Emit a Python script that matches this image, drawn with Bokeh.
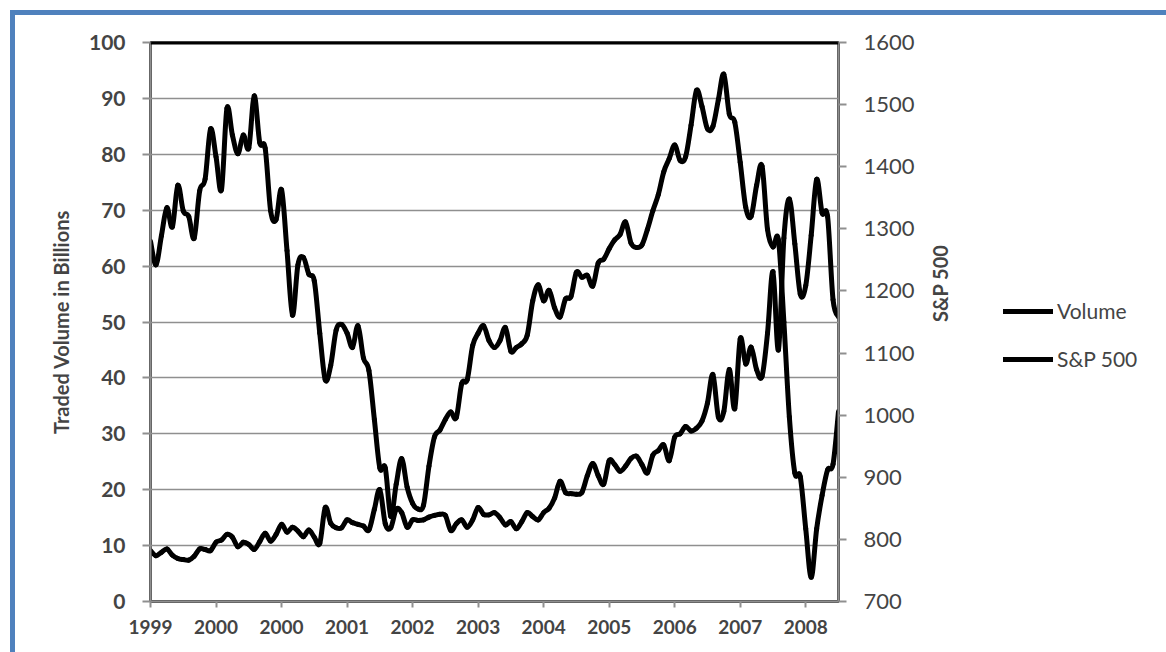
from bokeh.plotting import figure
from bokeh.layouts import row
from bokeh.models import (Range1d, LinearAxis, FixedTicker, Legend, LegendItem, Span)
from bokeh.embed import file_html
from bokeh.resources import INLINE
import math

# ---- data (monthly) ----
year_labels = ["1999", "2000", "2000", "2001", "2002", "2003",
               "2004", "2005", "2006", "2007", "2008"]
months_per_label = 12
series_names = ["Volume", "S&P 500"]

volume = [9.1, 8.2, 8.8, 9.4, 8.3, 7.7, 7.5, 7.4, 8.1, 9.4,
          9.3, 9.1, 10.6, 11.0, 12.0, 11.5, 9.8, 10.6, 10.2, 9.3,
          10.7, 12.2, 10.8, 12.0, 13.8, 12.4, 13.3, 12.6, 11.6, 12.8,
          11.5, 10.4, 16.8, 14.0, 13.2, 13.2, 14.6, 14.1, 13.8, 13.5,
          12.8, 16.5, 20.0, 13.9, 13.2, 16.5, 15.9, 13.3, 14.6, 14.5,
          14.6, 15.1, 15.4, 15.6, 15.4, 12.7, 13.9, 14.6, 13.3, 14.6,
          16.8, 15.6, 15.5, 15.9, 15.0, 13.7, 14.3, 13.0, 14.3, 15.9,
          15.2, 14.6, 15.9, 16.7, 18.5, 21.5, 19.5, 19.3, 19.2, 19.5,
          22.5, 24.7, 22.5, 21.0, 25.2, 24.5, 23.3, 24.2, 25.6, 26.0,
          24.5, 23.0, 26.2, 27.0, 28.0, 25.2, 29.4, 30.0, 31.3, 30.5,
          31.0, 32.3, 35.5, 40.6, 33.0, 34.0, 41.5, 34.5, 47.0, 42.5,
          45.5, 41.5, 40.3, 48.0, 59.0, 45.0, 65.0, 72.0, 64.0, 55.0,
          56.5, 65.5, 75.5, 69.5, 68.9, 54.0, 50.9]

sp500 = [1280, 1242, 1289, 1334, 1303, 1370, 1329, 1320, 1285, 1361,
         1380, 1461, 1416, 1363, 1494, 1451, 1421, 1451, 1430, 1514,
         1439, 1430, 1329, 1315, 1363, 1265, 1161, 1242, 1254, 1227,
         1216, 1132, 1057, 1080, 1137, 1146, 1132, 1109, 1144, 1092,
         1072, 993, 915, 915, 837, 889, 930, 884, 858, 849,
         855, 918, 965, 976, 993, 1005, 996, 1051, 1057, 1112,
         1132, 1144, 1120, 1109, 1120, 1141, 1103, 1109, 1115, 1129,
         1184, 1210, 1184, 1201, 1173, 1158, 1187, 1191, 1230, 1222,
         1225, 1208, 1245, 1251, 1268, 1282, 1291, 1311, 1277, 1270,
         1274, 1299, 1329, 1355, 1392, 1413, 1435, 1410, 1416, 1467,
         1523, 1497, 1461, 1465, 1508, 1549, 1485, 1472, 1407, 1335,
         1320, 1370, 1401, 1299, 1271, 1282, 1150, 997, 907, 901,
         817, 739, 817, 871, 912, 921, 1006]

month_index = list(range(len(volume)))

FONT = "Lato"
GRID = "#8f8f8f"
OFF = 15          # blue frame (margin 10 + border 5) before the canvas
MAIN_RIGHT = 140  # room for the right axis
MAIN_W = (150 - OFF) + 688 + MAIN_RIGHT
H = 652 - OFF


def smooth_segments(xs, ys):
    """Excel-style smoothed line: one cubic Bezier per pair of neighbouring points."""
    n = len(xs)
    seg = dict(x0=[], y0=[], x1=[], y1=[], cx0=[], cy0=[], cx1=[], cy1=[])
    for i in range(n - 1):
        a = max(i - 1, 0)
        b = min(i + 2, n - 1)
        seg["x0"].append(xs[i]); seg["y0"].append(ys[i])
        seg["x1"].append(xs[i + 1]); seg["y1"].append(ys[i + 1])
        seg["cx0"].append(xs[i] + (xs[i + 1] - xs[a]) / 6)
        seg["cy0"].append(ys[i] + (ys[i + 1] - ys[a]) / 6)
        seg["cx1"].append(xs[i + 1] - (xs[b] - xs[i]) / 6)
        seg["cy1"].append(ys[i + 1] - (ys[b] - ys[i]) / 6)
    return seg


p = figure(frame_width=688, frame_height=559,
           min_border_left=150 - OFF, min_border_right=MAIN_RIGHT,
           min_border_top=42 - OFF, min_border_bottom=652 - 601,
           x_range=Range1d(0, len(volume) - 1), y_range=Range1d(0, 100),
           output_backend="svg", toolbar_location=None,
           background_fill_color="white", border_fill_color="white")
p.extra_y_ranges = {"sp": Range1d(700, 1600)}

p.outline_line_color = "black"
p.outline_line_width = 2.5

# left axis
ay = p.yaxis[0]
ay.ticker = FixedTicker(ticks=list(range(0, 101, 10)))
ay.axis_label = "Traded Volume in Billions"
ay.axis_label_text_font = FONT
ay.axis_label_text_font_style = "bold"
ay.axis_label_text_font_size = "20px"
ay.axis_label_standoff = 13
ay.major_label_text_font = FONT
ay.major_label_text_font_style = "bold"
ay.major_label_text_font_size = "21px"
ay.major_label_standoff = 17
ay.major_tick_out = 8
ay.major_tick_in = 0
ay.minor_tick_out = 0
ay.minor_tick_in = 0
ay.major_tick_line_color = GRID
ay.major_tick_line_width = 2
ay.axis_line_color = GRID
ay.axis_line_width = 2

# bottom axis
ax = p.xaxis[0]
tick_pos = [months_per_label * k for k in range(len(year_labels))]
ax.ticker = FixedTicker(ticks=tick_pos)
ax.major_label_overrides = {t: lab for t, lab in zip(tick_pos, year_labels)}
ax.major_label_text_font = FONT
ax.major_label_text_font_style = "bold"
ax.major_label_text_font_size = "19px"
ax.major_label_standoff = 12
ax.major_tick_out = 6
ax.major_tick_in = 0
ax.minor_tick_out = 0
ax.minor_tick_in = 0
ax.major_tick_line_color = GRID
ax.major_tick_line_width = 2
ax.axis_line_color = GRID
ax.axis_line_width = 2

# right axis
ar = LinearAxis(y_range_name="sp", ticker=FixedTicker(ticks=list(range(700, 1601, 100))))
ar.major_label_text_font = FONT
ar.major_label_text_font_size = "22px"
ar.major_label_standoff = 17
ar.major_tick_out = 8
ar.major_tick_in = 0
ar.minor_tick_out = 0
ar.minor_tick_in = 0
ar.major_tick_line_color = GRID
ar.major_tick_line_width = 2
ar.axis_line_color = GRID
ar.axis_line_width = 2
ar.axis_label = "S&P 500"
ar.axis_label_text_font = FONT
ar.axis_label_text_font_style = "bold"
ar.axis_label_text_font_size = "20px"
ar.axis_label_standoff = 22
if "axis_label_orientation" in ar.properties():
    ar.axis_label_orientation = math.pi / 2
p.add_layout(ar, "right")

p.xgrid.visible = False
p.ygrid.grid_line_color = GRID
p.ygrid.grid_line_width = 1.5
p.ygrid.ticker = FixedTicker(ticks=list(range(0, 101, 10)))

p.add_layout(Span(location=100, dimension="width", line_color="black", line_width=4))

vol_r = p.bezier(source=smooth_segments(month_index, volume),
                 x0="x0", y0="y0", x1="x1", y1="y1",
                 cx0="cx0", cy0="cy0", cx1="cx1", cy1="cy1",
                 line_color="black", line_width=5, line_cap="round")
sp_r = p.bezier(source=smooth_segments(month_index, sp500), y_range_name="sp",
                x0="x0", y0="y0", x1="x1", y1="y1",
                cx0="cx0", cy0="cy0", cx1="cx1", cy1="cy1",
                line_color="black", line_width=5, line_cap="round")

# legend panel to the right of the chart (its ranges lie away from the data,
# so only the legend is visible there)
LEG_W = 1166 - OFF - MAIN_W
pl = figure(width=LEG_W, height=H, min_border=0,
            x_range=Range1d(-20, -10), y_range=Range1d(0, 100),
            output_backend="svg", toolbar_location=None,
            background_fill_color="white", border_fill_color="white")
pl.extra_y_ranges = {"sp": Range1d(700, 1600)}
pl.axis.visible = False
pl.grid.visible = False
pl.outline_line_color = None
leg_vol = pl.line(month_index, volume, line_color="black", line_width=5, line_cap="round")
leg_sp = pl.line(month_index, sp500, y_range_name="sp", line_color="black",
                 line_width=5, line_cap="round")

legend = Legend(items=[LegendItem(label=series_names[0], renderers=[leg_vol]),
                       LegendItem(label=series_names[1], renderers=[leg_sp])],
                location=(1003 - OFF - MAIN_W, 652 - 369 - 53), orientation="vertical",
                glyph_width=50, glyph_height=20, label_height=20,
                label_standoff=4, spacing=23, padding=0, margin=0,
                label_text_font=FONT, label_text_font_size="21px",
                border_line_alpha=0, background_fill_alpha=0)
pl.add_layout(legend, "center")

layout = row(p, pl)
layout.styles = {"margin-left": "10px", "margin-top": "10px",
                 "border-left": "5px solid #4F81BD", "border-top": "5px solid #4F81BD"}

open("out.html", "w").write(file_html(layout, INLINE))
